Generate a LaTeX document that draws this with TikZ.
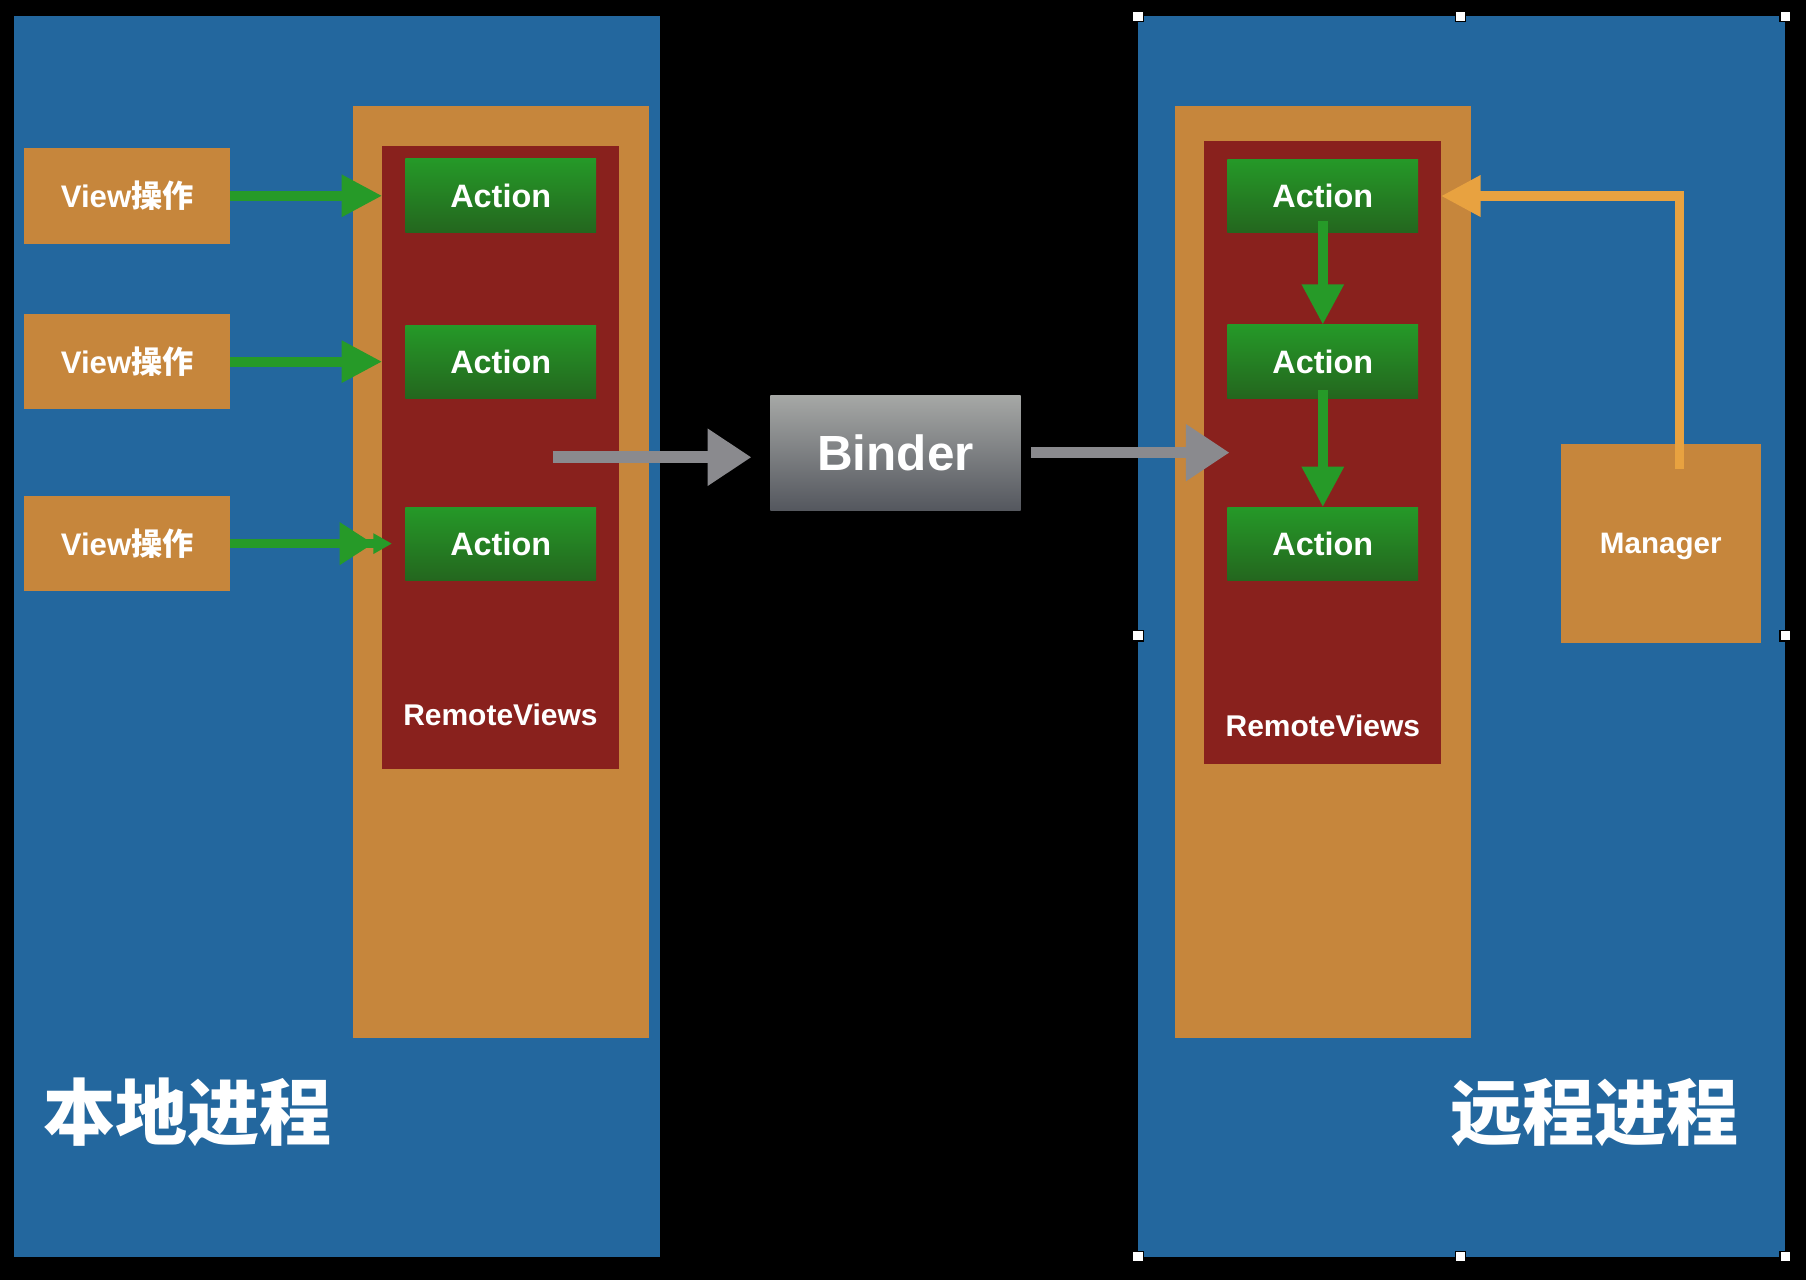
\documentclass[tikz,border=0pt]{standalone}
\usepackage{fontspec}
\setmainfont{Liberation Sans}
\newfontfamily\cjk{Noto Sans CJK SC}
\usetikzlibrary{arrows.meta}

\definecolor{procblue}{RGB}{35,103,158}
\definecolor{appbrown}{RGB}{198,134,60}
\definecolor{rvred}{RGB}{137,33,29}
\definecolor{acttop}{RGB}{37,153,40}
\definecolor{actbottom}{RGB}{36,102,30}
\definecolor{flowgreen}{RGB}{38,154,40}
\definecolor{mgrorange}{RGB}{232,162,64}
\definecolor{bindertop}{RGB}{166,168,166}
\definecolor{binderbottom}{RGB}{84,87,94}
\definecolor{chalk}{RGB}{138,138,142}

\begin{document}
\begin{tikzpicture}[x=0.01cm,y=-0.01cm,
    process/.style={fill=procblue,inner sep=0,outer sep=0},
    appbox/.style={fill=appbrown,inner sep=0,outer sep=0},
    rvbox/.style={fill=rvred,inner sep=0,outer sep=0,minimum width=2.057cm,minimum height=5.41cm},
    actionbox/.style={top color=acttop,bottom color=actbottom,inner sep=0,outer sep=0,
        minimum width=1.655cm,minimum height=0.64cm,text=white,font=\bfseries\fontsize{8}{10}\selectfont},
    viewbox/.style={fill=appbrown,inner sep=0,outer sep=0,minimum width=1.79cm,minimum height=0.83cm,
        text=white,font=\bfseries\fontsize{7.7}{9}\selectfont},
    label/.style={text=white,inner sep=0,font=\bfseries\fontsize{7.4}{9}\selectfont},
    title/.style={text=white,inner sep=0,font=\cjk\bfseries\fontsize{17.8}{20}\selectfont},
    greenarrow/.style={draw=flowgreen,line width=2.4pt,-{Triangle[length=10pt,width=9.8pt]}},
    mgrarrow/.style={draw=mgrorange,line width=2.3pt,-{Triangle[length=9.8pt,width=9.7pt]}},
    chalkarrow/.style={draw=chalk,line width=2.85pt,-{Triangle[length=10.8pt,width=13.4pt]}},
    handle/.style={fill=white,draw=black,line width=0.3pt}]

    % Background and the two processes
    \fill[black] (0,0) rectangle (1568,1111.3);
    \node[process,minimum width=5.61cm,minimum height=10.77cm] (localproc) at (292.5,552.5) {};
    \node[process,minimum width=5.62cm,minimum height=10.77cm] (remoteproc) at (1269,552.5) {};
    \node[title] (localtitle) at (163,966) {本地进程};
    \node[title] (remotetitle) at (1384.3,966) {远程进程};

    % Local side
    \node[appbox,minimum width=2.565cm,minimum height=8.09cm] (localapp) at (434.75,496.5) {};
    \node[rvbox] (localrv) at (434.75,397) {};
    \node[label] (localrvtext) at (434.5,621) {RemoteViews};
    \node[actionbox] (lactone) at (434.75,170) {Action};
    \node[actionbox] (lacttwo) at (434.75,314.3) {Action};
    \node[actionbox] (lactthree) at (434.75,472.3) {Action};
    \node[viewbox] (viewone) at (110.5,170) {View{\cjk 操作}};
    \node[viewbox] (viewtwo) at (110.5,314) {View{\cjk 操作}};
    \node[viewbox] (viewthree) at (110.5,472) {View{\cjk 操作}};
    \coordinate (viewthreeend) at (340.3,472);

    \draw[greenarrow] (viewone.east) -- (viewone.east -| localrv.west);
    \draw[greenarrow] (viewtwo.east) -- (viewtwo.east -| localrv.west);
    \draw[draw=flowgreen,line width=2.4pt,-{Triangle[length=8.3pt,width=10pt]Triangle[length=4.6pt,width=4.8pt]}]
        (viewthree.east) -- (viewthreeend);

    % Remote side
    \node[appbox,minimum width=2.57cm,minimum height=8.09cm] (remoteapp) at (1148.5,496.5) {};
    \node[rvbox] (remoterv) at (1148.2,392.8) {};
    \node[label] (remotervtext) at (1148.5,630) {RemoteViews};
    \node[actionbox] (ractone) at (1148.5,170.2) {Action};
    \node[actionbox] (racttwo) at (1148.5,314) {Action};
    \node[actionbox] (ractthree) at (1148.5,472.4) {Action};
    \node[appbox,minimum width=1.738cm,minimum height=1.732cm,text=white,text depth=0pt,
        font=\bfseries\fontsize{7.3}{9}\selectfont] (manager) at (1441.9,472) {Manager};

    \draw[greenarrow] ([yshift=3pt]ractone.south) -- (racttwo.north);
    \draw[greenarrow] ([yshift=2pt]racttwo.south) -- (ractthree.north);
    \draw[mgrarrow] ([xshift=4.7pt,yshift=-6.3pt]manager.north) |- (remoterv.east |- ractone);

    % Binder in the middle
    \node[top color=bindertop,bottom color=binderbottom,inner sep=0,minimum width=2.17cm,minimum height=1.004cm,
        text=white,font=\bfseries\fontsize{12.2}{14}\selectfont] (binder) at (777.5,393.2) {Binder};
    \coordinate (sendstart) at (480,397);
    \coordinate (recvend) at (1067.5,393);
    \draw[chalkarrow,shorten >=4.5pt] (sendstart) -- (sendstart -| binder.west);
    \draw[chalkarrow,shorten <=2.5pt] (binder.east |- recvend) -- (recvend);

    % Selection handles round the remote process
    \foreach \hx/\hy in {988/14,1268/14,1550/14,988/552,1550/552,988/1091,1268/1091,1550/1091}
        \filldraw[handle] (\hx-4.5,\hy-4.5) rectangle (\hx+4.5,\hy+4.5);
\end{tikzpicture}
\end{document}
